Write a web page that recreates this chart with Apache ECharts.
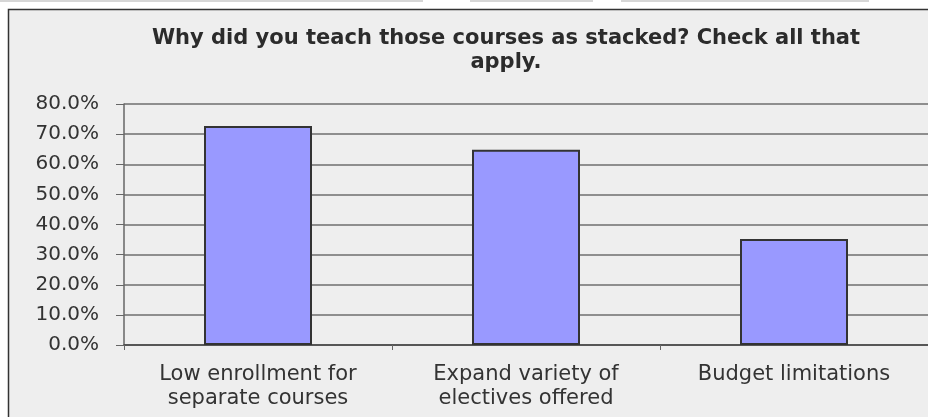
<!DOCTYPE html>
<html>
<head>
<meta charset="utf-8">
<script src="https://cdn.jsdelivr.net/npm/echarts@6/dist/echarts.min.js"></script>
<style>
  html, body { margin: 0; padding: 0; background: #fff; }
  #chart { width: 928px; height: 417px; }
</style>
</head>
<body>
<div id="chart"></div>
<script>
// survey answers
const categories = ['Low enrollment for\nseparate courses', 'Expand variety of\nelectives offered', 'Budget limitations']
const percents = [72.7, 64.8, 35.2]
const titleText = 'Why did you teach those courses as stacked? Check all that\napply.'

const chart = echarts.init(document.getElementById('chart'))

chart.setOption({
  animation: false,
  title: {
    text: titleText,
    left: 501,
    top: 22,
    textAlign: 'center',
    textStyle: {
      fontFamily: 'DejaVu Sans',
      fontWeight: 'bold',
      fontSize: 21,
      lineHeight: 24,
      color: '#2b2b2b'
    }
  },
  // chart frame like the original sheet
  graphic: [
    {
      type: 'rect',
      z: -10,
      shape: { x: 8.5, y: 9.5, width: 1000, height: 500 },
      style: { fill: '#eeeeee', stroke: '#333', lineWidth: 1.5 }
    },
    { type: 'rect', z: -10, shape: { x: 0, y: 0, width: 423, height: 2 }, style: { fill: '#d6d6d6' } },
    { type: 'rect', z: -10, shape: { x: 470, y: 0, width: 123, height: 2 }, style: { fill: '#d6d6d6' } },
    { type: 'rect', z: -10, shape: { x: 621, y: 0, width: 248, height: 2 }, style: { fill: '#d6d6d6' } }
  ],
  grid: {
    left: 124,
    top: 104,
    bottom: 72,
    right: -6
  },
  xAxis: {
    type: 'category',
    data: categories,
    axisLine: { lineStyle: { color: '#444', width: 1.5 } },
    axisTick: { show: true, length: 5, lineStyle: { color: '#666' } },
    axisLabel: {
      margin: 18,
      fontFamily: 'DejaVu Sans',
      fontSize: 21,
      lineHeight: 24,
      color: '#333',
      interval: 0
    }
  },
  yAxis: {
    type: 'value',
    min: 0,
    max: 80,
    interval: 10,
    axisLine: { show: true, lineStyle: { color: '#666', width: 1.5 } },
    axisTick: { show: true, length: 8, lineStyle: { color: '#666' } },
    axisLabel: {
      margin: 25,
      fontFamily: 'DejaVu Sans',
      fontSize: 20,
      color: '#333',
      formatter: v => v.toFixed(1) + '%'
    },
    splitLine: { show: true, lineStyle: { color: '#6e6e6e', width: 1.5 } }
  },
  series: [
    {
      type: 'bar',
      data: percents,
      barWidth: 108,
      itemStyle: {
        color: '#9999ff',
        borderColor: '#333',
        borderWidth: 2
      }
    }
  ]
})
</script>
</body>
</html>
